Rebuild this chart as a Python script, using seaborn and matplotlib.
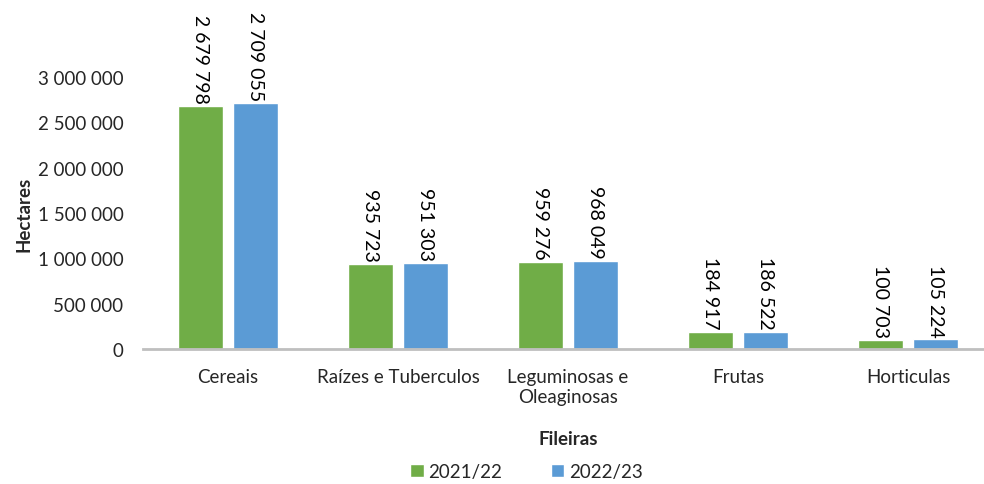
import pandas as pd
import matplotlib.pyplot as plt
import seaborn as sns

# dados
fileiras = ["Cereais", "Raízes e Tuberculos", "Leguminosas e\nOleaginosas", "Frutas", "Horticulas"]
campanhas = ["2021/22", "2022/23"]
area_2021_22 = [2679798, 935723, 959276, 184917, 100703]
area_2022_23 = [2709055, 951303, 968049, 186522, 105224]
cores = ["#70AD47", "#5B9BD5"]

df = pd.DataFrame({
    "Fileira": fileiras * 2,
    "Campanha": [campanhas[0]] * len(fileiras) + [campanhas[1]] * len(fileiras),
    "Hectares": area_2021_22 + area_2022_23,
})

sns.set_theme(style="white")
plt.rcParams['font.family'] = ['Lato', 'DejaVu Sans']


def fmt(v):
    return f"{v:,.0f}".replace(",", " ")


fig = plt.figure(figsize=(9.84, 4.85), dpi=100)
ax = fig.add_axes([143 / 984, 135 / 485, 850 / 984, 272 / 485])

sns.barplot(data=df, x="Fileira", y="Hectares", hue="Campanha", order=fileiras,
            hue_order=campanhas, palette=cores, width=0.64, gap=0.17,
            saturation=1, ax=ax)

# rótulos dos valores (vertical)
for cont in ax.containers:
    for bar in cont:
        h = bar.get_height()
        ax.text(bar.get_x() + bar.get_width() / 2, h + 35000, fmt(h),
                rotation=-90, ha="center", va="bottom", fontsize=14,
                color="#000000", clip_on=False)

ax.set_xlim(-0.5, 4.5)
ax.set_ylim(0, 3000000)
ax.set_yticks([0, 500000, 1000000, 1500000, 2000000, 2500000, 3000000])
ax.set_yticklabels([fmt(t) for t in ax.get_yticks()], fontsize=13.5)
ax.tick_params(axis="x", labelsize=13.5, pad=14, length=0)
ax.tick_params(axis="y", length=0, pad=14)

for s in ["top", "right", "left"]:
    ax.spines[s].set_visible(False)
ax.spines["bottom"].set_color("#BFBFBF")
ax.spines["bottom"].set_linewidth(2)

ax.set_xlabel("Fileiras", fontsize=13.5, fontweight="bold", labelpad=18)
ax.set_ylabel("Hectares", fontsize=13.5, fontweight="bold", labelpad=4)

handles, labels = ax.get_legend_handles_labels()
ax.get_legend().remove()
fig.legend(handles, labels, loc="lower center", bbox_to_anchor=(0.535, 0.004), ncol=2,
           frameon=False, fontsize=13.5, handlelength=0.7, handleheight=0.7,
           handletextpad=0.25, columnspacing=2.6, borderpad=0.1, borderaxespad=0)

plt.savefig("out.png", dpi=100)
plt.close()
